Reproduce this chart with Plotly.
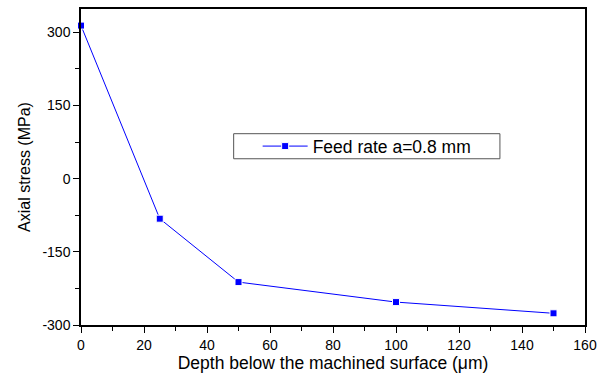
import plotly.graph_objects as go

depth_um = [0, 25, 50, 100, 150]
axial_stress_mpa = [314, -82, -212, -253, -276]
series_name = "Feed rate a=0.8 mm"

y_tick_vals = [-300, -150, 0, 150, 300]
y_tick_text = ["-300", "-150", "0", "150", "300"]
x_tick_vals = [0, 20, 40, 60, 80, 100, 120, 140, 160]

FONT = "Liberation Sans, Arial, sans-serif"

fig = go.Figure()
fig.add_trace(go.Scatter(
    x=depth_um, y=axial_stress_mpa, name=series_name,
    mode="lines+markers",
    line=dict(color="#0000ff", width=1),
    marker=dict(symbol="square", size=7, color="#0000ff",
                line=dict(color="white", width=1)),
    cliponaxis=False,
))

axis_common = dict(
    showline=True, linecolor="black", linewidth=1.5, mirror=True,
    showgrid=False, zeroline=False, automargin=False,
    ticks="outside", ticklen=6, tickwidth=1, tickcolor="black",
    tickfont=dict(family=FONT, size=14, color="black"),
    minor=dict(ticks="outside", ticklen=4, tickwidth=1, tickcolor="black"),
)

fig.update_xaxes(range=[0, 160], tickvals=x_tick_vals,
                 minor_tickvals=[10, 30, 50, 70, 90, 110, 130, 150],
                 title=dict(text="Depth below the machined surface (μm)",
                            font=dict(family=FONT, size=17.5, color="black"),
                            standoff=4),
                 **axis_common)
fig.update_yaxes(range=[-300, 348], tickvals=y_tick_vals, ticktext=y_tick_text,
                 minor_tickvals=[-225, -75, 75, 225],
                 title=dict(text="Axial stress (MPa)",
                            font=dict(family=FONT, size=16, color="black"),
                            standoff=8),
                 **axis_common)

# frame around the legend entry
fig.add_shape(type="rect", xref="paper", yref="paper",
              x0=0.3029, x1=0.8312, y0=0.5261, y1=0.6054,
              line=dict(color="#555555", width=1), fillcolor="white", layer="above")

fig.update_layout(
    width=598, height=376,
    margin=dict(l=81, r=13, t=9, b=51),
    plot_bgcolor="white", paper_bgcolor="white",
    showlegend=True,
    legend=dict(x=0.3505, y=0.5658, xanchor="left", yanchor="middle",
                bgcolor="rgba(0,0,0,0)", borderwidth=0,
                font=dict(family=FONT, size=17.5, color="black"),
                itemwidth=45),
)

fig.write_html("out.html")
